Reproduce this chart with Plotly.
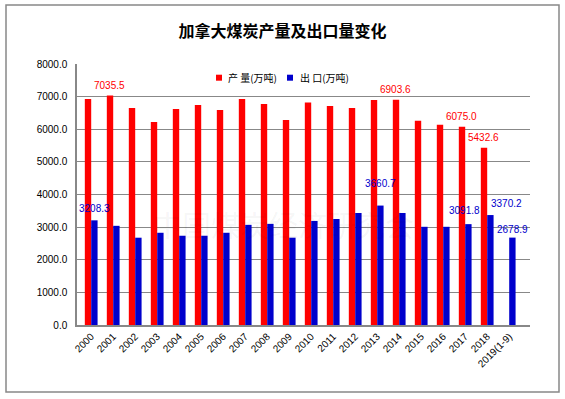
import plotly.graph_objects as go

years = ["2000", "2001", "2002", "2003", "2004", "2005", "2006", "2007", "2008", "2009",
         "2010", "2011", "2012", "2013", "2014", "2015", "2016", "2017", "2018", "2019(1-9)"]
production = [6930, 7035.5, 6654, 6226, 6624, 6746, 6593, 6930, 6777, 6287,
              6817, 6716, 6654, 6899, 6903.6, 6257, 6135, 6075.0, 5432.6, None]
exports = [3208.3, 3040, 2676, 2827, 2736, 2736, 2827, 3070, 3100, 2676,
           3190, 3250, 3433, 3660.7, 3433, 3010, 3010, 3091.8, 3370.2, 2678.9]
series_names = ["产 量(万吨)", "出 口(万吨)"]
prod_label_years = ["2001", "2014", "2017", "2018"]
exp_label_years = ["2000", "2013", "2017", "2018", "2019(1-9)"]

RED = "#FF0000"
BLUE = "#0000CC"
LATIN = "Liberation Sans, Arial, sans-serif"
CJK = "Noto Sans CJK SC, sans-serif"
TICK_FONT = dict(family=LATIN, size=10, color="#000000")

# plot-area geometry in page pixels
L, R, T, B = 77, 530, 64, 325
W, H = R - L, B - T
def px(x):
    return (x - L) / W
def py(y):
    return (B - y) / H

fig = go.Figure()
fig.add_trace(go.Bar(x=years, y=production, name=series_names[0], marker_color=RED,
                     marker_line_width=0))
fig.add_trace(go.Bar(x=years, y=exports, name=series_names[1], marker_color=BLUE,
                     marker_line_width=0))

# data labels as annotations (x given as category index)
bar_half = 3.3
exp_shift = {"2000": (0, 12), "2013": (0, 22), "2017": (-4, 14), "2018": (16, 12), "2019(1-9)": (0, 8)}
for yr in prod_label_years:
    i = years.index(yr)
    fig.add_annotation(x=i, y=production[i], text=f"{production[i]:.1f}", showarrow=False,
                       xshift=-bar_half, yshift=10, yanchor="middle",
                       font=dict(family=LATIN, size=10, color=RED))
for yr in exp_label_years:
    i = years.index(yr)
    dx, dy = exp_shift[yr]
    fig.add_annotation(x=i, y=exports[i], text=f"{exports[i]:.1f}", showarrow=False,
                       xshift=bar_half + dx, yshift=dy, yanchor="middle",
                       font=dict(family=LATIN, size=10, color=BLUE))

# faint watermark
fig.add_annotation(xref="paper", yref="paper", x=px(283), y=py(247),
                   text="中国煤炭经济研究会", showarrow=False,
                   font=dict(family=CJK, size=29, color="rgba(0,0,0,0.05)"))

# manual legend (swatch + label)
for sx, tx, col, name in [(216, 226, RED, series_names[0]), (287, 298, BLUE, series_names[1])]:
    fig.add_shape(type="rect", xref="paper", yref="paper",
                  x0=px(sx), x1=px(sx + 6), y0=py(80.7), y1=py(74.7),
                  fillcolor=col, line=dict(width=0))
    fig.add_annotation(xref="paper", yref="paper", x=px(tx), y=py(77.7), xanchor="left",
                       yanchor="middle", text=name, showarrow=False,
                       font=dict(family=CJK, size=10, color="#000000"))

# outer border
fig.add_shape(type="rect", xref="paper", yref="paper",
              x0=px(6), x1=px(559), y0=py(392), y1=py(5),
              line=dict(color="#888888", width=1.5), layer="below")

fig.update_layout(
    width=565, height=399,
    margin=dict(l=L, r=565 - R, t=T, b=399 - B, autoexpand=False),
    paper_bgcolor="white", plot_bgcolor="white",
    barmode="group", bargap=0.42, bargroupgap=0,
    title=dict(text="<b>加拿大煤炭产量及出口量变化</b>", x=0.5, xanchor="center",
               y=1 - 31.7 / 399, yanchor="middle", yref="container",
               font=dict(family=CJK, size=16, color="#000000")),
    showlegend=False,
)
fig.update_xaxes(type="category", tickangle=-45, tickfont=TICK_FONT, showgrid=False,
                 showline=True, linecolor="#888888", linewidth=1.5, ticks="")
fig.update_yaxes(range=[0, 8000], dtick=1000, tickformat=".1f", tickfont=TICK_FONT,
                 showgrid=True, gridcolor="#888888", gridwidth=1, showline=True,
                 linecolor="#888888", linewidth=1.5, ticks="", zeroline=False,
                 ticklabelstandoff=6)

fig.write_html("out.html", config={"displayModeBar": False},
               post_script="document.body.style.margin='0';")
